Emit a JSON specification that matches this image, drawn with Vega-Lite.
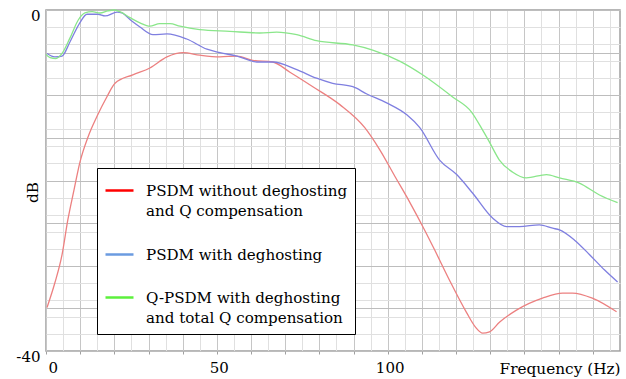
{
  "$schema": "https://vega.github.io/schema/vega-lite/v6.json",
  "width": 574,
  "height": 341,
  "autosize": {"type": "none"},
  "padding": {"left": 46, "top": 10, "right": 6, "bottom": 28},
  "background": "white",
  "config": {
    "view": {"stroke": "#a0a0a0", "strokeWidth": 1.5},
    "font": "DejaVu Serif",
    "axis": {"labelFont": "DejaVu Serif", "titleFont": "DejaVu Serif", "labelFontSize": 15, "titleFontSize": 15.3, "titleFontWeight": "normal", "labelColor": "black", "titleColor": "black", "domain": false}
  },
  "data": {"values": [
    {"s":"A","f":0.3,"db":-34.9},{"s":"A","f":2.6,"db":-32.0},{"s":"A","f":4.7,"db":-28.7},{"s":"A","f":6.4,"db":-24.6},{"s":"A","f":8.2,"db":-21.1},{"s":"A","f":9.9,"db":-17.9},{"s":"A","f":12.3,"db":-14.9},{"s":"A","f":14.9,"db":-12.5},{"s":"A","f":17.8,"db":-10.2},{"s":"A","f":20.2,"db":-8.6},{"s":"A","f":25.4,"db":-7.6},{"s":"A","f":30.4,"db":-6.8},{"s":"A","f":35.4,"db":-5.5},{"s":"A","f":40.1,"db":-5.0},{"s":"A","f":45.0,"db":-5.3},{"s":"A","f":50.9,"db":-5.5},{"s":"A","f":55.9,"db":-5.4},{"s":"A","f":60.5,"db":-5.9},{"s":"A","f":66.4,"db":-6.1},{"s":"A","f":71.4,"db":-7.3},{"s":"A","f":78.1,"db":-9.0},{"s":"A","f":86.0,"db":-11.1},{"s":"A","f":93.3,"db":-13.8},{"s":"A","f":97.7,"db":-16.4},{"s":"A","f":102.1,"db":-19.5},{"s":"A","f":106.4,"db":-22.5},{"s":"A","f":110.8,"db":-25.8},{"s":"A","f":113.7,"db":-28.1},{"s":"A","f":118.1,"db":-31.7},{"s":"A","f":123.1,"db":-35.5},{"s":"A","f":125.7,"db":-37.2},{"s":"A","f":127.8,"db":-37.9},{"s":"A","f":129.8,"db":-37.75},{"s":"A","f":132.8,"db":-36.6},{"s":"A","f":137.7,"db":-35.2},{"s":"A","f":145.3,"db":-33.8},{"s":"A","f":151.2,"db":-33.2},{"s":"A","f":154.1,"db":-33.2},{"s":"A","f":159.9,"db":-33.8},{"s":"A","f":167.0,"db":-35.4},
    {"s":"B","f":0.3,"db":-5.1},{"s":"B","f":2.6,"db":-5.5},{"s":"B","f":4.7,"db":-5.4},{"s":"B","f":7.0,"db":-3.75},{"s":"B","f":9.9,"db":-1.5},{"s":"B","f":12.0,"db":-0.5},{"s":"B","f":15.2,"db":-0.5},{"s":"B","f":17.3,"db":-0.7},{"s":"B","f":20.8,"db":-0.25},{"s":"B","f":22.2,"db":-0.35},{"s":"B","f":25.1,"db":-1.3},{"s":"B","f":27.5,"db":-2.0},{"s":"B","f":31.3,"db":-2.9},{"s":"B","f":35.4,"db":-2.8},{"s":"B","f":41.2,"db":-3.4},{"s":"B","f":47.1,"db":-4.6},{"s":"B","f":50.9,"db":-5.0},{"s":"B","f":55.9,"db":-5.4},{"s":"B","f":61.7,"db":-6.1},{"s":"B","f":66.4,"db":-6.1},{"s":"B","f":73.4,"db":-7.0},{"s":"B","f":79.2,"db":-8.0},{"s":"B","f":83.9,"db":-8.6},{"s":"B","f":89.8,"db":-9.0},{"s":"B","f":93.9,"db":-9.85},{"s":"B","f":99.7,"db":-10.9},{"s":"B","f":105.6,"db":-12.3},{"s":"B","f":109.4,"db":-13.8},{"s":"B","f":115.2,"db":-17.6},{"s":"B","f":120.2,"db":-19.3},{"s":"B","f":124.9,"db":-21.5},{"s":"B","f":130.7,"db":-24.4},{"s":"B","f":134.8,"db":-25.4},{"s":"B","f":138.6,"db":-25.4},{"s":"B","f":144.4,"db":-25.2},{"s":"B","f":148.3,"db":-25.6},{"s":"B","f":150.3,"db":-25.8},{"s":"B","f":154.7,"db":-27.0},{"s":"B","f":159.1,"db":-28.7},{"s":"B","f":163.5,"db":-30.5},{"s":"B","f":167.3,"db":-31.9},
    {"s":"C","f":0,"db":-5.2},{"s":"C","f":1.2,"db":-5.6},{"s":"C","f":2.9,"db":-5.7},{"s":"C","f":4.7,"db":-5.1},{"s":"C","f":7.0,"db":-3.3},{"s":"C","f":9.4,"db":-1.2},{"s":"C","f":11.4,"db":-0.35},{"s":"C","f":13.5,"db":-0.2},{"s":"C","f":15.8,"db":-0.35},{"s":"C","f":18.1,"db":-0.1},{"s":"C","f":19.9,"db":0},{"s":"C","f":21.6,"db":-0.2},{"s":"C","f":24.6,"db":-0.9},{"s":"C","f":27.5,"db":-1.5},{"s":"C","f":30.4,"db":-1.9},{"s":"C","f":33.3,"db":-1.6},{"s":"C","f":36.3,"db":-1.6},{"s":"C","f":39.2,"db":-1.9},{"s":"C","f":45.0,"db":-2.3},{"s":"C","f":53.8,"db":-2.5},{"s":"C","f":62.6,"db":-2.7},{"s":"C","f":67.5,"db":-2.6},{"s":"C","f":73.4,"db":-2.9},{"s":"C","f":79.2,"db":-3.6},{"s":"C","f":89.8,"db":-4.1},{"s":"C","f":95.6,"db":-4.7},{"s":"C","f":103.5,"db":-6.0},{"s":"C","f":110.2,"db":-7.6},{"s":"C","f":119.0,"db":-10.2},{"s":"C","f":124.6,"db":-12.0},{"s":"C","f":127.8,"db":-14.1},{"s":"C","f":129.8,"db":-15.5},{"s":"C","f":132.7,"db":-17.6},{"s":"C","f":136.5,"db":-19.0},{"s":"C","f":140.6,"db":-19.7},{"s":"C","f":146.5,"db":-19.3},{"s":"C","f":150.3,"db":-19.7},{"s":"C","f":156.1,"db":-20.3},{"s":"C","f":162.0,"db":-21.7},{"s":"C","f":167.3,"db":-22.6}
  ]},
  "layer": [
    {
      "mark": {"type": "line", "opacity": 0},
      "encoding": {
        "x": {"field": "f", "type": "quantitative", "scale": {"domain": [0, 168], "nice": false, "zero": false},
          "axis": {"orient": "top", "values": [0,5,10,15,20,25,30,35,40,45,50,55,60,65,70,75,80,85,90,95,100,105,110,115,120,125,130,135,140,145,150,155,160,165], "grid": true, "gridColor": "#e0e0e0", "gridWidth": 1, "labels": false, "ticks": false, "title": null}},
        "y": {"field": "db", "type": "quantitative", "scale": {"domain": [-40, 0], "nice": false},
          "axis": {"orient": "right", "values": [-40,-38,-36,-34,-32,-30,-28,-26,-24,-22,-20,-18,-16,-14,-12,-10,-8,-6,-4,-2,0], "grid": true, "gridColor": "#e0e0e0", "gridWidth": 1, "labels": false, "ticks": false, "title": null}},
        "color": {"field": "s", "type": "nominal",
          "scale": {"domain": ["A", "B", "C"], "range": ["#ff0000", "#6b9be0", "#5cf03c"]},
          "legend": {
            "orient": "none", "legendX": 51, "legendY": 158, "title": null,
            "strokeColor": "black", "fillColor": "white", "padding": 7,
            "symbolType": "stroke", "symbolSize": 784, "symbolStrokeWidth": 2.5, "symbolOpacity": 1,
            "labelFont": "DejaVu Serif", "labelFontSize": 15.1, "labelColor": "black", "labelLimit": 400, "labelOffset": 11, "rowPadding": 19,
            "labelExpr": "datum.value == 'A' ? ['PSDM without deghosting', 'and Q compensation'] : datum.value == 'B' ? 'PSDM with deghosting' : ['Q-PSDM with deghosting', 'and total Q compensation']",
            "encode": {"labels": {"update": {"lineHeight": {"value": 20.5}}}}
          }
        }
      }
    },
    {
      "mark": {"type": "line", "strokeWidth": 1.3, "interpolate": "monotone"},
      "encoding": {
        "x": {"field": "f", "type": "quantitative", "scale": {"domain": [0, 168], "nice": false, "zero": false},
          "axis": {"orient": "bottom", "values": [0,10,20,30,40,50,60,70,80,90,100,110,120,130,140,150,160], "grid": true, "gridColor": "#c6c6c6", "gridWidth": 1, "ticks": true, "tickSize": 3, "tickColor": "#a0a0a0",
            "labelExpr": "datum.value == 0 || datum.value == 50 || datum.value == 100 ? datum.label : ''", "labelPadding": 6, "labelOffset": 2,
            "title": "Frequency (Hz)", "titleX": 574, "titleY": 22, "titleAlign": "right", "titleBaseline": "alphabetic"}},
        "y": {"field": "db", "type": "quantitative", "scale": {"domain": [-40, 0], "nice": false},
          "axis": {"orient": "left", "values": [-40,-35,-30,-25,-20,-15,-10,-5,0], "grid": true, "gridColor": "#bdbdbd", "gridWidth": 1, "ticks": false,
            "labelExpr": "datum.value == 0 ? '0' : datum.value == -40 ? '-40' : ''", "labelPadding": 6, "labelOffset": 5,
            "title": "dB", "titleX": -14, "titleY": 182, "titleAngle": -90, "titleAlign": "center", "titleBaseline": "middle"}},
        "color": {"field": "s", "type": "nominal",
          "scale": {"domain": ["A", "B", "C"], "range": ["#ec8080", "#7f7fe0", "#8ae68a"]},
          "legend": null
        }
      }
    }
  ],
  "resolve": {"axis": {"x": "independent", "y": "independent"}, "scale": {"color": "independent"}}
}
